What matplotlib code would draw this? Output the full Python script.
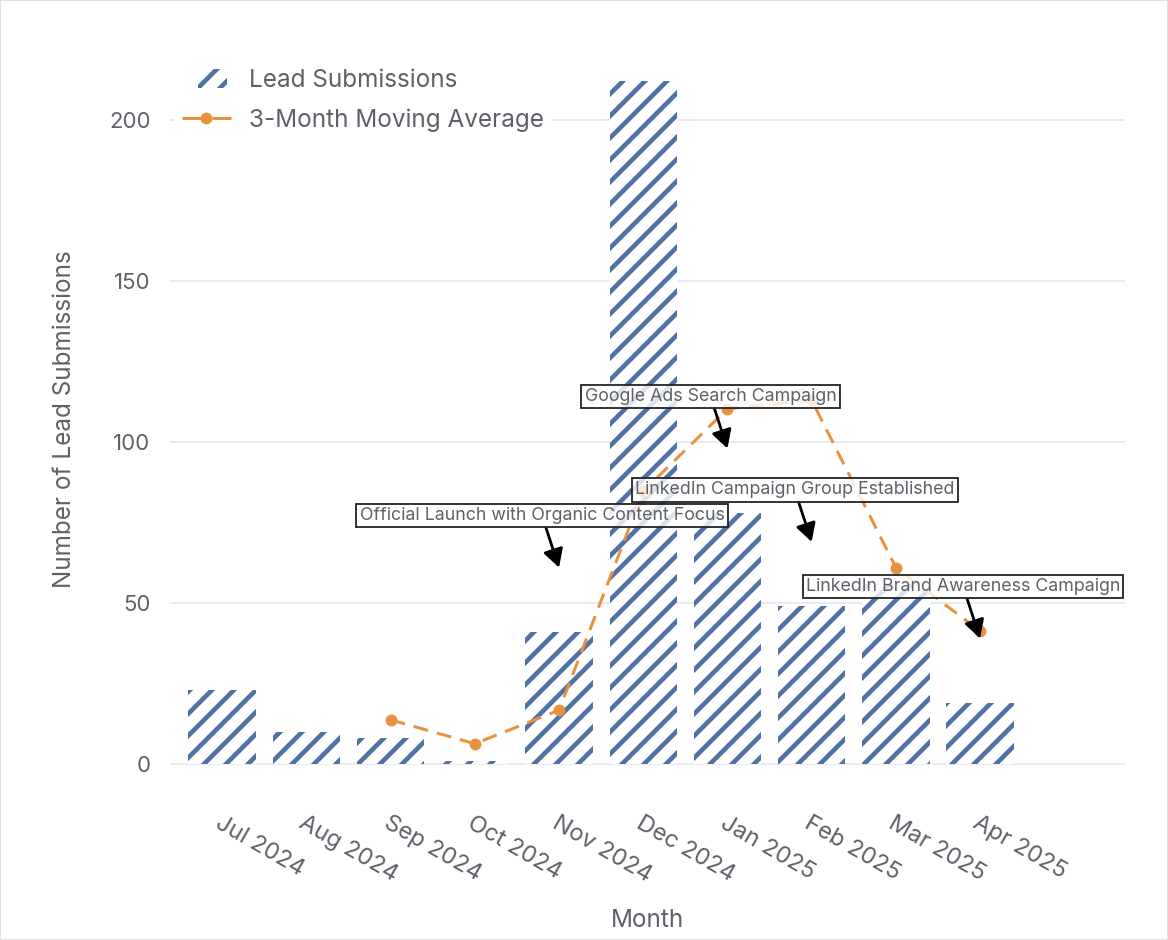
import matplotlib.pyplot as plt
import matplotlib.patches as mpatches
from matplotlib.legend_handler import HandlerPatch
import numpy as np

# data
months = ['Jul 2024', 'Aug 2024', 'Sep 2024', 'Oct 2024', 'Nov 2024',
          'Dec 2024', 'Jan 2025', 'Feb 2025', 'Mar 2025', 'Apr 2025']
leads = [23, 10, 8, 1, 41, 212, 78, 49, 56, 19]
moving_avg = [np.nan, np.nan, 13.7, 6.3, 16.7, 84.7, 110.3, 113.0, 61.0, 41.3]

# campaign notes: month index, y the arrow points at, label
note_idx = [4, 6, 7, 9]
note_y = [61, 98, 69, 39]
note_text = ['Official Launch with Organic Content Focus',
             'Google Ads Search Campaign',
             'LinkedIn Campaign Group Established',
             'LinkedIn Brand Awareness Campaign']

BLUE = '#4f72a6'
ORANGE = '#e8923f'
GREY = '#5f6169'

# hatch tiles are one inch wide, so the dpi sets the stripe spacing ('//' -> dpi/6 px)
DPI = 132


def px(v):
    # pixels -> points at the figure dpi
    return v * 72.0 / DPI


plt.rcParams['font.family'] = ['Inter', 'DejaVu Sans']
plt.rcParams['hatch.linewidth'] = px(4.6)
plt.rcParams['hatch.color'] = BLUE


def small_patch(legend, orig_handle, xdescent, ydescent, width, height, fontsize):
    w = width * 0.6
    h = height * 1.15
    return mpatches.Rectangle((-xdescent + width - w - 2, -ydescent - (h - height) / 2), w, h)


def main():
    fig = plt.figure(figsize=(1168 / DPI, 940 / DPI), dpi=DPI)
    fig.patch.set_edgecolor('#dde1e6')
    fig.patch.set_linewidth(px(2))
    ax = fig.add_axes([0.1455, 0.1804, 0.8176, 0.7467])

    x = np.arange(len(months))
    bars = ax.bar(x, leads, width=0.8, color='white', edgecolor=BLUE, linewidth=0,
                  hatch='//', label='Lead Submissions', zorder=2)
    line, = ax.plot(x, moving_avg, color=ORANGE, linestyle=(0, (5, 3)), linewidth=px(3),
                    marker='o', markersize=px(10), label='3-Month Moving Average', zorder=3)

    for i, yv, txt in zip(note_idx, note_y, note_text):
        ax.annotate(txt, xy=(x[i], yv), xytext=(-17, 52), textcoords='offset pixels',
                    ha='center', va='center', fontsize=px(17.8), color=GREY,
                    bbox=dict(boxstyle='square,pad=0.18', fc=(1, 1, 1, 0.8),
                              ec='#222222', lw=px(1.8)),
                    arrowprops=dict(arrowstyle='-|>,head_length=0.45,head_width=0.25',
                                    color='black', lw=px(2.8),
                                    mutation_scale=px(34), shrinkA=0, shrinkB=0),
                    zorder=5)

    ax.set_xlim(-0.62, 10.72)
    ax.set_ylim(-2, 216)
    ax.set_yticks([0, 50, 100, 150, 200])
    ax.grid(axis='y', color='#e6e8ec', linewidth=px(1.7), zorder=0)
    ax.set_axisbelow(True)
    for s in ax.spines.values():
        s.set_visible(False)

    ax.set_xticks(x)
    ax.set_xticklabels(months, rotation=-30, ha='left', va='top',
                       rotation_mode='anchor', fontsize=px(23.6), color=GREY)
    ax.tick_params(axis='x', length=0, pad=px(42))
    ax.tick_params(axis='y', length=0, pad=px(19.5), labelsize=px(22.2), labelcolor=GREY)

    ax.set_xlabel('Month', fontsize=px(24.3), color=GREY, labelpad=px(22))
    ax.set_ylabel('Number of Lead Submissions', fontsize=px(24.3), color=GREY, labelpad=px(33))

    # legend line drawn as dash - marker - dash, like the original
    leg_line = plt.Line2D([], [], color=ORANGE, linestyle=(0, (6.5, 3.5)), linewidth=px(3),
                          marker='o', markersize=px(10))
    leg = ax.legend([bars[0], leg_line], ['Lead Submissions', '3-Month Moving Average'],
                    handler_map={bars[0]: HandlerPatch(patch_func=small_patch)},
                    loc='upper left', bbox_to_anchor=(0.005, 1.01), fontsize=px(24.3),
                    frameon=True, facecolor='white', edgecolor='none', framealpha=1,
                    handlelength=2.0, borderaxespad=0.0, borderpad=0.3,
                    labelspacing=0.68, handletextpad=0.75)
    for t in leg.get_texts():
        t.set_color(GREY)

    fig.savefig('out.png', dpi=DPI, facecolor='white', edgecolor=fig.patch.get_edgecolor())
    plt.close(fig)


if __name__ == '__main__':
    main()
